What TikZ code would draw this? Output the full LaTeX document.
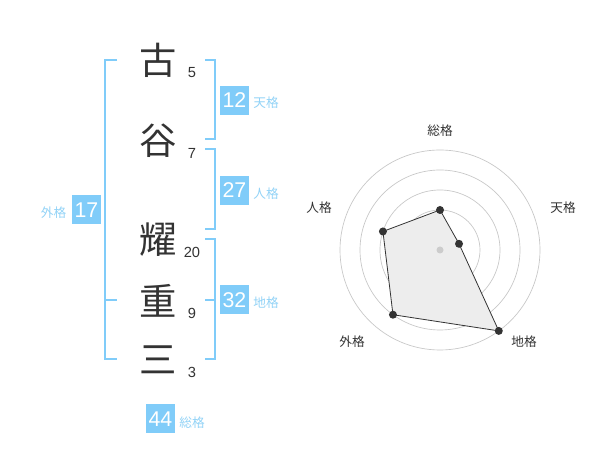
\documentclass[tikz,border=0pt]{standalone}
\usepackage{fontspec}
\setmainfont{Liberation Sans}
\newfontfamily\jpfont{Noto Sans CJK JP}
\usepackage{tikz}
\usetikzlibrary{calc}

\definecolor{boxblue}{HTML}{80CCF9}
\definecolor{lblblue}{HTML}{92D3F7}
\definecolor{inkgray}{HTML}{333333}

\begin{document}
\begin{tikzpicture}[x=0.75pt,y=0.75pt]

\tikzset{kanji/.style = {text=inkgray,font=\jpfont\fontsize{28}{28}\selectfont,inner sep=0pt}}
\tikzset{strokes/.style = {text=inkgray,font=\fontsize{11}{11}\selectfont,inner sep=0pt}}
\tikzset{score/.style = {fill=boxblue,text=white,minimum size=29*0.75pt,inner sep=0pt,font=\fontsize{16}{16}\selectfont}}
\tikzset{kaku/.style = {text=lblblue,font=\jpfont\fontsize{9.5}{9.5}\selectfont,inner sep=0pt}}
\tikzset{bracket/.style = {draw=boxblue,line width=1.5pt}}
\tikzset{ring/.style = {draw=black!22,line width=0.5pt}}
\tikzset{axis/.style = {text=inkgray,font=\jpfont\fontsize{9.5}{9.5}\selectfont,inner sep=0pt}}
\tikzset{dot/.style = {circle,fill=inkgray,inner sep=0pt,minimum size=6pt}}

\fill[white] (0,0) rectangle (600,470);
\useasboundingbox (0,0) rectangle (600,470);

% name
\node[kanji] (k1) at (158.5,410) {古};
\node[kanji] (k2) at (158.5,329) {谷};
\node[kanji] (k3) at (158.5,230) {耀};
\node[kanji] (k4) at (158.5,169) {重};
\node[kanji] (k5) at (158.5,110) {三};

\node[strokes] (s1) at (192,397) {5};
\node[strokes] (s2) at (192,317) {7};
\node[strokes] (s3) at (192,218) {20};
\node[strokes] (s4) at (192,157) {9};
\node[strokes] (s5) at (192,98) {3};

% brackets
\draw[bracket] (117,410) -- (105,410) -- (105,111) -- (117,111);
\draw[bracket] (105,170) -- (117,170);
\draw[bracket] (205,410) -- (215,410) -- (215,331) -- (205,331);
\draw[bracket] (205,321) -- (215,321) -- (215,241) -- (205,241);
\draw[bracket] (205,231) -- (215,231) -- (215,111) -- (205,111);
\draw[bracket] (205,170) -- (215,170);

% scores
\node[score] (ten) at (234.5,369.5) {12};
\node[score] (jin) at (234.5,279.5) {27};
\node[score] (chi) at (234.5,170) {32};
\node[score] (gai) at (86.5,260) {17};
\node[score] (sou) at (160.5,51) {44};

\node[kaku] (tenl) at (266,367) {天格};
\node[kaku] (jinl) at (266,276) {人格};
\node[kaku] (chil) at (266,167) {地格};
\node[kaku] (gail) at (53.5,257) {外格};
\node[kaku] (soul) at (192,47) {総格};

% radar
\coordinate (c) at (440,220);
\foreach \r in {20,40,60,80,100}
  \draw[ring] (c) circle[radius=\r*0.75pt];

\coordinate (p1) at ($(c)+(90:40)$);
\coordinate (p2) at ($(c)+(18:20)$);
\coordinate (p3) at ($(c)+(-54:100)$);
\coordinate (p4) at ($(c)+(-126:80)$);
\coordinate (p5) at ($(c)+(162:60)$);

\filldraw[fill=black!7,draw=inkgray,line width=0.6pt] (p1) -- (p2) -- (p3) -- (p4) -- (p5) -- cycle;
\fill[black!20] (c) circle[radius=3.5*0.75pt];

\foreach \p in {p1,p2,p3,p4,p5}
  \node[dot] at (\p) {};

\node[axis] (a1) at (440,339) {総格};
\node[axis] (a2) at (563,262) {天格};
\node[axis] (a3) at (524,128) {地格};
\node[axis] (a4) at (352,128) {外格};
\node[axis] (a5) at (319,262) {人格};

\end{tikzpicture}
\end{document}
